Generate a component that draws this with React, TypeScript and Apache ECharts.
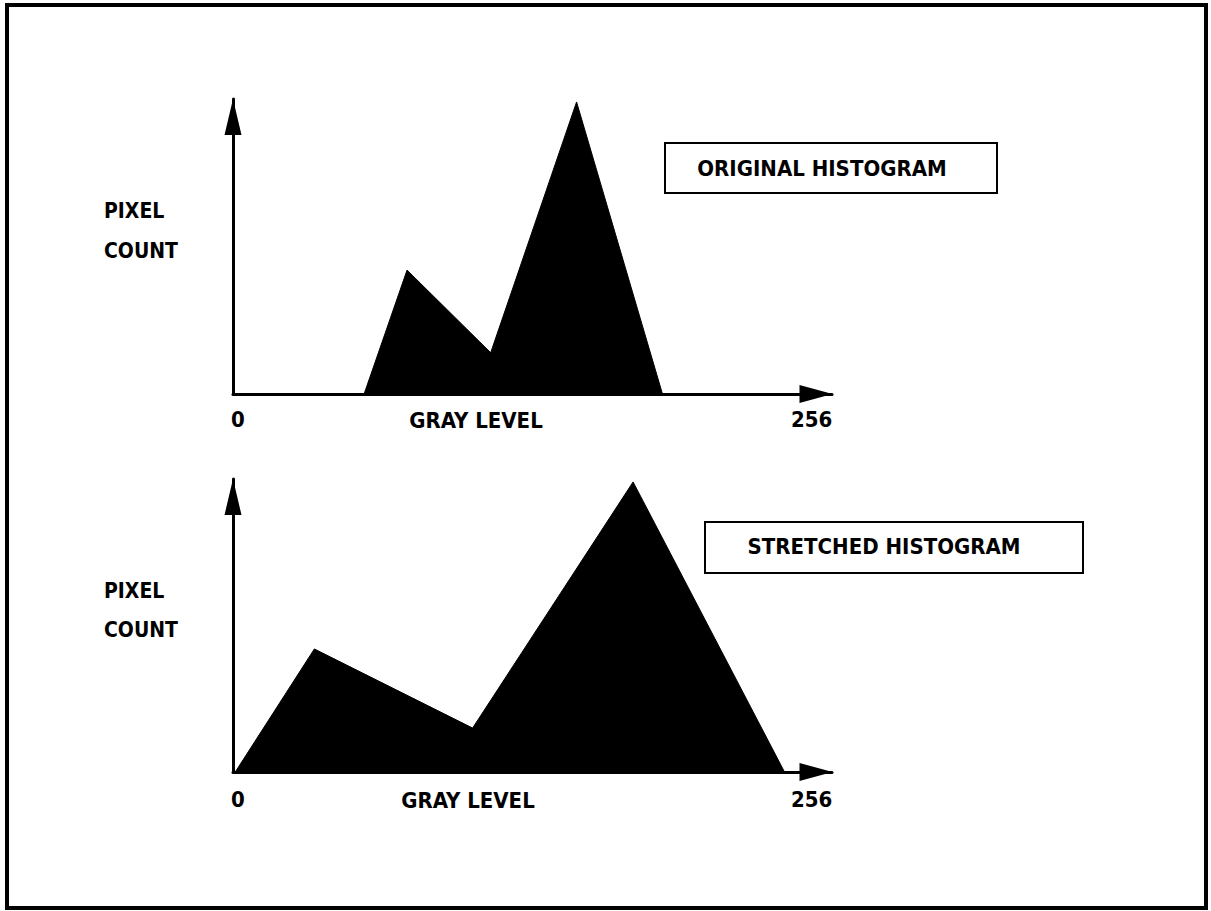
import React, { useEffect, useRef } from "react";
import * as echarts from "echarts";

// Original histogram (gray level, pixel count)
const origLevels = [58, 77, 114, 152, 190];
const origCounts = [0, 42, 14, 99, 0];
// Stretched histogram
const strLevels = [1, 36, 106, 177, 244];
const strCounts = [0, 42, 15, 99, 0];
const tickLabels = [0, 256];
const xMax = 265;
const yMax = 100;

const FONT = "'DejaVu Sans Condensed', 'DejaVu Sans', sans-serif";

function xAxisFor(gridIndex: number, margin: number) {
  return {
    type: "value",
    gridIndex,
    min: 0,
    max: xMax,
    axisLine: {
      show: true,
      onZero: false,
      lineStyle: { color: "#000", width: 3 },
      symbol: ["none", "triangle"],
      symbolSize: [18, 33],
      symbolOffset: [0, -16],
    },
    axisTick: { show: false },
    splitLine: { show: false },
    axisLabel: {
      customValues: tickLabels,
      margin,
      color: "#000",
      fontFamily: FONT,
      fontWeight: "bold",
      fontSize: 22,
      formatter: (v: number) =>
        v === tickLabels[0] ? "{z|" + v + "}" : v === tickLabels[1] ? "{n|" + v + "}" : "",
      rich: {
        z: { padding: [0, 0, 0, 10], fontFamily: FONT, fontWeight: "bold", fontSize: 22, color: "#000" },
        n: { fontFamily: FONT, fontWeight: "bold", fontSize: 22, color: "#000" },
      },
    },
  };
}

function yAxisFor(gridIndex: number) {
  return {
    type: "value",
    gridIndex,
    min: 0,
    max: yMax,
    axisLine: {
      show: true,
      onZero: false,
      lineStyle: { color: "#000", width: 3 },
      symbol: ["none", "triangle"],
      symbolSize: [17, 36],
      symbolOffset: [0, -18],
    },
    axisTick: { show: false },
    splitLine: { show: false },
    axisLabel: { show: false },
  };
}

function areaSeries(levels: number[], counts: number[], idx: number) {
  return {
    type: "line",
    xAxisIndex: idx,
    yAxisIndex: idx,
    data: levels.map((l, i) => [l, counts[i]]),
    showSymbol: false,
    symbol: "none",
    lineStyle: { color: "#000", width: 1 },
    areaStyle: { color: "#000", opacity: 1 },
    z: 1,
  };
}

const txt = (x: number, y: number, text: string, size: number, align = "left") => ({
  type: "text",
  x,
  y,
  style: {
    text,
    fill: "#000",
    font: `bold ${size}px ${FONT}`,
    textAlign: align,
    textVerticalAlign: "middle",
  },
});

export default function App() {
  const ref = useRef<HTMLDivElement>(null);
  useEffect(() => {
    if (!ref.current) return;
    const chart = echarts.init(ref.current, null, { renderer: "svg" });
    chart.setOption({
      animation: false,
      backgroundColor: "#fff",
      grid: [
        { left: 233, top: 99, width: 599, height: 295 },
        { left: 233, top: 479, width: 599, height: 293 },
      ],
      xAxis: [xAxisFor(0, 14), xAxisFor(1, 16)],
      yAxis: [yAxisFor(0), yAxisFor(1)],
      series: [areaSeries(origLevels, origCounts, 0), areaSeries(strLevels, strCounts, 1)],
      graphic: [
        {
          type: "rect",
          shape: { x: 7, y: 5, width: 1199, height: 903 },
          style: { fill: "none", stroke: "#000", lineWidth: 4 },
        },
        {
          type: "rect",
          shape: { x: 665, y: 143, width: 332, height: 50 },
          style: { fill: "none", stroke: "#000", lineWidth: 2 },
        },
        {
          type: "rect",
          shape: { x: 705, y: 522, width: 378, height: 51 },
          style: { fill: "none", stroke: "#000", lineWidth: 2 },
        },
        txt(822, 168, "ORIGINAL HISTOGRAM", 22, "center"),
        txt(884, 546, "STRETCHED HISTOGRAM", 22, "center"),
        txt(104, 211, "PIXEL", 21),
        txt(104, 251, "COUNT", 21),
        txt(104, 591, "PIXEL", 21),
        txt(104, 630, "COUNT", 21),
        txt(476, 420, "GRAY LEVEL", 22, "center"),
        txt(468, 800, "GRAY LEVEL", 22, "center"),
      ],
    });
    return () => chart.dispose();
  }, []);
  return (
    <div
      ref={ref}
      style={{ position: "absolute", left: 0, top: 0, width: 1211, height: 911 }}
    />
  );
}
